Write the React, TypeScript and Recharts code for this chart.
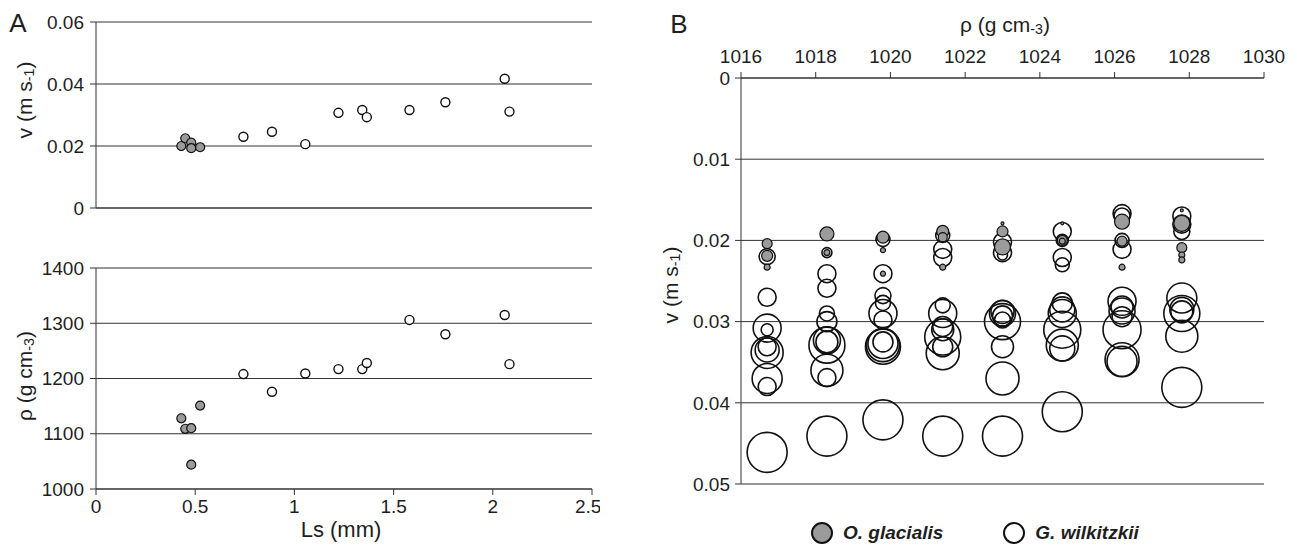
import React from "react";
import { ScatterChart, Scatter, XAxis, YAxis, ZAxis, CartesianGrid } from "recharts";

// ---- panel A : single specimens ----
const lsGlacialis = [0.43, 0.45, 0.48, 0.48, 0.525];
const vGlacialis = [0.02, 0.0225, 0.0211, 0.0193, 0.0196];
const rhoGlacialis = [1128, 1109, 1110, 1044, 1151];

const lsWilkitzkii = [0.743, 0.887, 1.055, 1.222, 1.342, 1.365, 1.58, 1.761, 2.06, 2.084];
const vWilkitzkii = [0.023, 0.0246, 0.0206, 0.0307, 0.0316, 0.0293, 0.0316, 0.0341, 0.0417, 0.0311];
const rhoWilkitzkii = [1208, 1176, 1209, 1217, 1217, 1228, 1306, 1280, 1315, 1226];

const lsTicks = [0, 0.5, 1, 1.5, 2, 2.5];
const vTicksA = [0, 0.02, 0.04, 0.06];
const rhoTicksA = [1000, 1100, 1200, 1300, 1400];

// ---- panel B : sinking velocity vs. water density, bubble = Ls (mm) ----
const rhoB = [1016.7, 1018.3, 1019.8, 1021.4, 1023.0, 1024.6, 1026.2, 1027.8];

const vGlacialisB = [
  [0.0204, 0.0219, 0.0233],
  [0.0192, 0.0215],
  [0.0196, 0.0212, 0.0241],
  [0.0189, 0.0196, 0.0233],
  [0.0179, 0.0189, 0.0208],
  [0.0179, 0.02, 0.0201],
  [0.0177, 0.0201, 0.0233],
  [0.0163, 0.0179, 0.0209, 0.0218, 0.0224],
];
const lsGlacialisB = [
  [0.5, 0.55, 0.3],
  [0.7, 0.3],
  [0.6, 0.25, 0.25],
  [0.6, 0.45, 0.3],
  [0.15, 0.55, 0.8],
  [0.15, 0.5, 0.3],
  [0.75, 0.5, 0.3],
  [0.15, 0.8, 0.5, 0.3, 0.3],
];

const vWilkitzkiiB = [
  [0.022, 0.0221, 0.027, 0.0308, 0.031, 0.0331, 0.0338, 0.0335, 0.037, 0.038, 0.0461],
  [0.0215, 0.0241, 0.0259, 0.029, 0.03, 0.0323, 0.0329, 0.0325, 0.036, 0.0369, 0.0441],
  [0.0199, 0.0241, 0.0268, 0.0277, 0.029, 0.0298, 0.0325, 0.0327, 0.0329, 0.0331, 0.0421],
  [0.0194, 0.0211, 0.0221, 0.028, 0.029, 0.0306, 0.031, 0.0319, 0.0331, 0.0339, 0.0441],
  [0.0202, 0.0215, 0.0218, 0.0288, 0.029, 0.0293, 0.0298, 0.03, 0.0331, 0.037, 0.0441],
  [0.0189, 0.02, 0.0221, 0.023, 0.0277, 0.0285, 0.029, 0.031, 0.0329, 0.0333, 0.0411],
  [0.0167, 0.017, 0.02, 0.0211, 0.0275, 0.0282, 0.0287, 0.0294, 0.031, 0.0347, 0.0349],
  [0.017, 0.018, 0.0189, 0.0271, 0.0285, 0.0288, 0.029, 0.0318, 0.0381],
];
const lsWilkitzkiiB = [
  [0.8, 0.3, 0.9, 1.4, 0.6, 0.9, 1.6, 1.2, 1.5, 0.9, 2.0],
  [0.5, 0.9, 0.9, 0.75, 1.0, 1.35, 1.8, 1.1, 1.6, 0.9, 2.0],
  [0.7, 0.9, 0.8, 0.75, 1.4, 0.9, 1.0, 1.5, 1.65, 1.75, 2.0],
  [0.7, 0.9, 0.9, 0.75, 1.4, 1.0, 1.1, 1.8, 1.0, 1.65, 2.0],
  [0.9, 0.9, 0.5, 1.15, 1.3, 1.0, 0.8, 1.8, 1.1, 1.65, 2.0],
  [0.9, 0.6, 0.9, 0.7, 1.0, 1.25, 1.4, 1.85, 1.6, 1.25, 2.0],
  [0.9, 0.8, 0.7, 0.9, 1.4, 1.1, 1.3, 1.0, 1.9, 1.7, 1.5],
  [0.9, 0.9, 0.8, 1.5, 1.2, 1.1, 1.8, 1.6, 2.0],
];

const rhoTicksB = [1016, 1018, 1020, 1022, 1024, 1026, 1028, 1030];
const vTicksB = [0, 0.01, 0.02, 0.03, 0.04, 0.05];

const font = '"Liberation Sans", Arial, Helvetica, sans-serif';
const ink = "#1e1e1e";
const lineColor = "#333";
const greyFill = "#9b9b9b";
const tick = { fill: ink, fontSize: 19 };

const topA = {
  glacialis: lsGlacialis.map((ls, i) => ({ ls, val: vGlacialis[i] })),
  wilkitzkii: lsWilkitzkii.map((ls, i) => ({ ls, val: vWilkitzkii[i] })),
};
const bottomA = {
  glacialis: lsGlacialis.map((ls, i) => ({ ls, val: rhoGlacialis[i] })),
  wilkitzkii: lsWilkitzkii.map((ls, i) => ({ ls, val: rhoWilkitzkii[i] })),
};

const bubbles = (vs: number[][], ls: number[][]) =>
  vs.flatMap((col, i) => col.map((v, j) => ({ rho: rhoB[i], v, z: ls[i][j] * ls[i][j] })));

const glacialisB = bubbles(vGlacialisB, lsGlacialisB);
const wilkitzkiiB = bubbles(vWilkitzkiiB, lsWilkitzkiiB);

const fmt = (v: number) => (v === 0 ? "0" : String(v));

const Unit = ({ base, sub }: { base: string; sub: string }) => (
  <>
    {base}
    <span style={{ fontSize: "0.68em", position: "relative", top: "0.12em" }}>{sub}</span>
  </>
);

const Caption = ({
  x,
  y,
  size,
  rotate,
  children,
}: {
  x: number;
  y: number;
  size: number;
  rotate?: boolean;
  children: React.ReactNode;
}) => (
  <div
    style={{
      position: "absolute",
      left: x,
      top: y,
      fontSize: size,
      lineHeight: 1,
      whiteSpace: "nowrap",
      color: ink,
      transform: `translate(-50%, -50%)${rotate ? " rotate(-90deg)" : ""}`,
    }}
  >
    {children}
  </div>
);

const PanelA = ({
  data,
  domain,
  ticks,
  showLs,
  height,
  top,
  bottom,
}: {
  data: typeof topA;
  domain: [number, number];
  ticks: number[];
  showLs: boolean;
  height: number;
  top: number;
  bottom: number;
}) => (
  <ScatterChart width={600} height={height} margin={{ top, right: 8, bottom, left: 36 }}>
    <CartesianGrid vertical={false} stroke={lineColor} strokeWidth={1} />
    <XAxis
      type="number"
      dataKey="ls"
      domain={[0, 2.5]}
      ticks={lsTicks}
      tick={showLs ? tick : false}
      tickFormatter={fmt}
      tickSize={6}
      tickMargin={5}
      height={showLs ? 30 : 12}
      stroke={lineColor}
    />
    <YAxis
      type="number"
      dataKey="val"
      domain={domain}
      ticks={ticks}
      tick={tick}
      tickFormatter={fmt}
      tickSize={6}
      tickMargin={6}
      width={60}
      stroke={lineColor}
    />
    <ZAxis range={[95, 95]} />
    <Scatter data={data.wilkitzkii} fill="#fff" stroke="#111" strokeWidth={1.4} isAnimationActive={false} />
    <Scatter data={data.glacialis} fill={greyFill} stroke="#111" strokeWidth={1.2} isAnimationActive={false} />
  </ScatterChart>
);

const legendDot = (filled: boolean) => (
  <span
    style={{
      display: "inline-block",
      width: 18,
      height: 18,
      borderRadius: "50%",
      border: "2px solid #111",
      background: filled ? greyFill : "#fff",
      marginRight: 10,
      verticalAlign: "middle",
    }}
  />
);

export default function App() {
  return (
    <div
      style={{
        position: "absolute",
        left: 0,
        top: 0,
        width: 1297,
        height: 549,
        background: "#fff",
        fontFamily: font,
      }}
    >
      <div style={{ position: "absolute", left: 0, top: 0 }}>
        <PanelA data={topA} domain={[0, 0.06]} ticks={vTicksA} showLs={false} height={230} top={22} bottom={10} />
      </div>
      <div style={{ position: "absolute", left: 0, top: 240 }}>
        <PanelA data={bottomA} domain={[1000, 1400]} ticks={rhoTicksA} showLs height={309} top={28} bottom={30} />
      </div>

      <div style={{ position: "absolute", left: 640, top: 0 }}>
        <ScatterChart width={657} height={549} margin={{ top: 48, right: 33, bottom: 65, left: 41 }}>
          <CartesianGrid vertical={false} stroke={lineColor} strokeWidth={1} />
          <XAxis
            type="number"
            dataKey="rho"
            orientation="top"
            domain={[1016, 1030]}
            ticks={rhoTicksB}
            tick={tick}
            tickSize={6}
            tickMargin={9}
            height={30}
            stroke={lineColor}
          />
          <YAxis
            type="number"
            dataKey="v"
            reversed
            domain={[0, 0.05]}
            ticks={vTicksB}
            tick={tick}
            tickFormatter={fmt}
            tickSize={6}
            tickMargin={5}
            width={60}
            stroke={lineColor}
          />
          <ZAxis type="number" dataKey="z" domain={[0, 4]} range={[0, 1257]} />
          <Scatter data={wilkitzkiiB} fill="none" stroke="#111" strokeWidth={1.6} isAnimationActive={false} />
          <Scatter data={glacialisB} fill={greyFill} stroke="#111" strokeWidth={1.2} isAnimationActive={false} />
        </ScatterChart>
      </div>

      <Caption x={18} y={23} size={26}>A</Caption>
      <Caption x={679} y={24} size={26}>B</Caption>
      <Caption x={24} y={100} size={21} rotate>
        v (m <Unit base="s" sub="-1" />)
      </Caption>
      <Caption x={24} y={376} size={21} rotate>
        ρ (g <Unit base="cm" sub="-3" />)
      </Caption>
      <Caption x={341} y={530} size={22}>Ls (mm)</Caption>
      <Caption x={670} y={285} size={21} rotate>
        v (m <Unit base="s" sub="-1" />)
      </Caption>
      <Caption x={1005} y={24} size={21}>
        ρ (g <Unit base="cm" sub="-3" />)
      </Caption>

      <div
        style={{
          position: "absolute",
          left: 811,
          top: 520,
          fontSize: 19,
          fontWeight: "bold",
          fontStyle: "italic",
          color: ink,
          whiteSpace: "nowrap",
          lineHeight: "24px",
        }}
      >
        {legendDot(true)}
        <span style={{ verticalAlign: "middle" }}>O. glacialis</span>
        <span style={{ display: "inline-block", width: 60 }} />
        {legendDot(false)}
        <span style={{ verticalAlign: "middle" }}>G. wilkitzkii</span>
      </div>
    </div>
  );
}
